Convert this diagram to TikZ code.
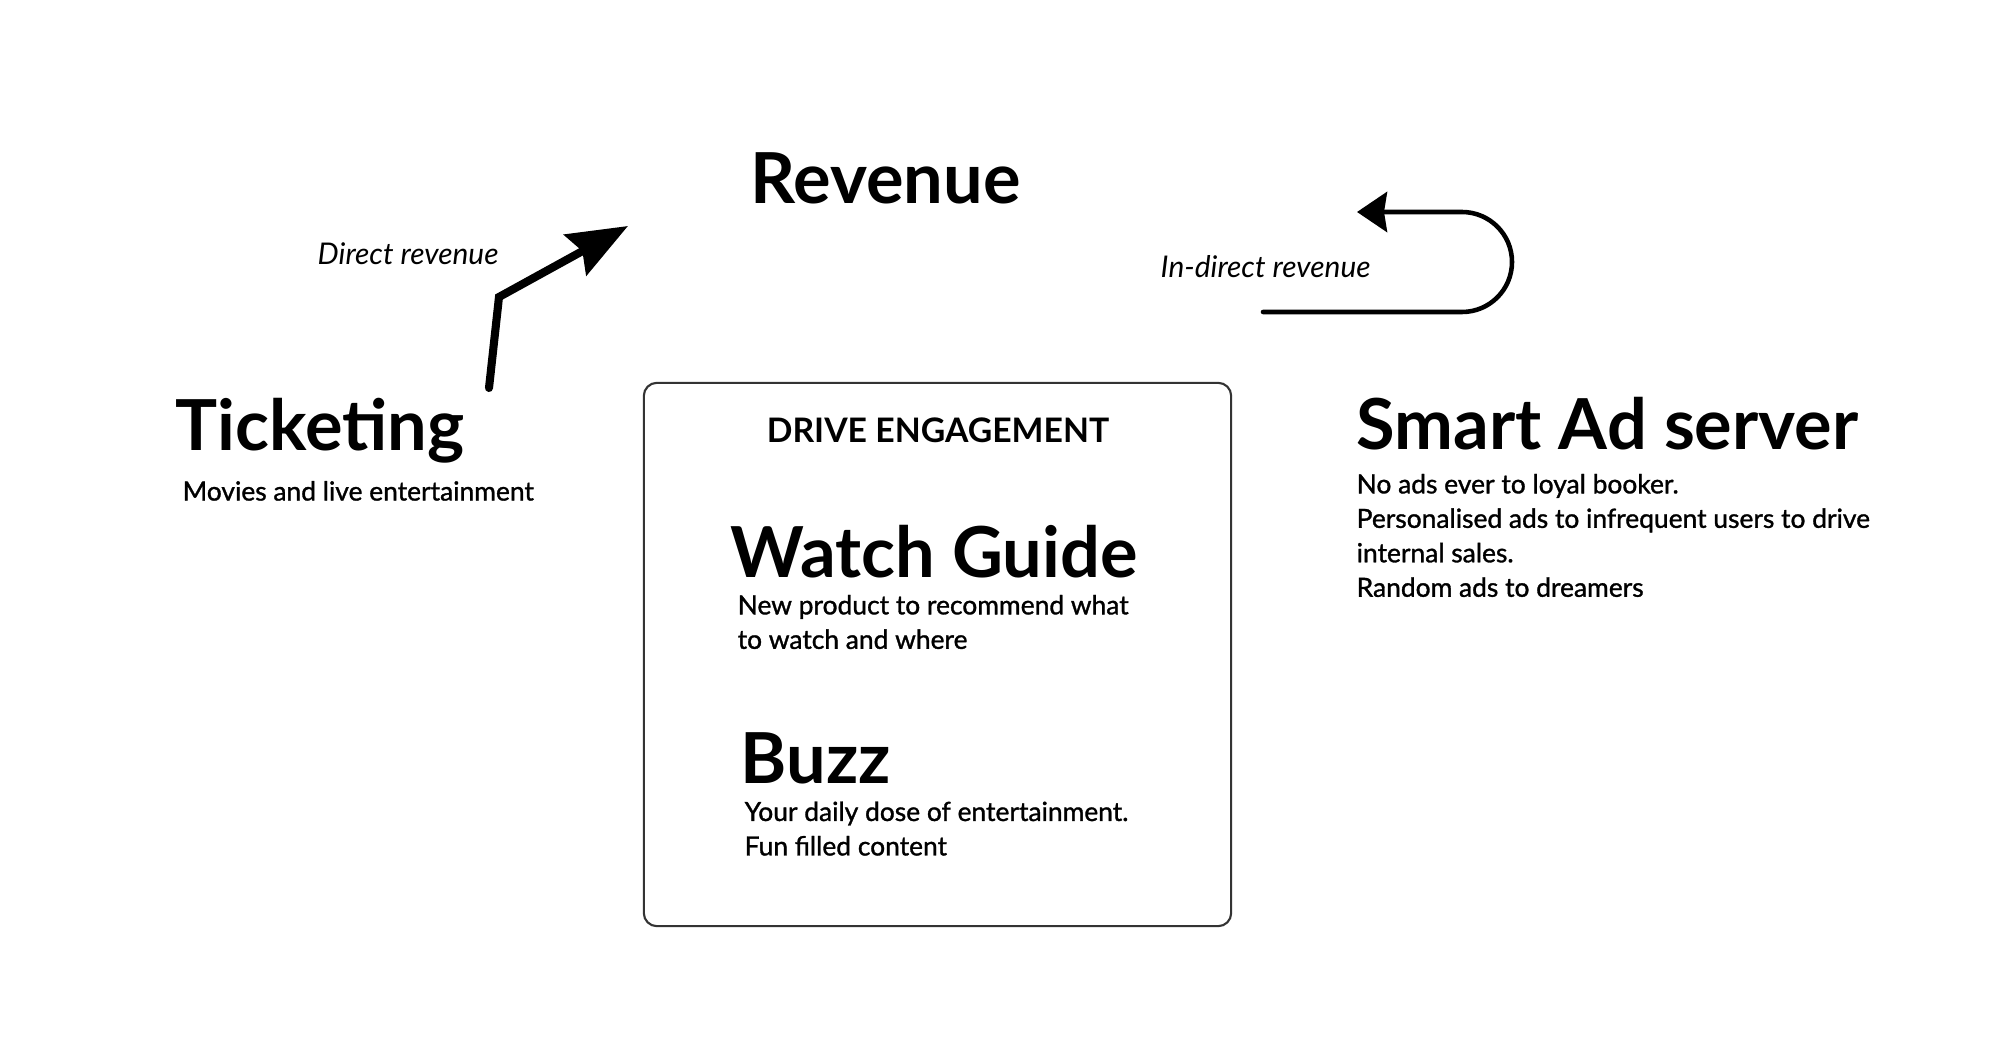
\documentclass[tikz,border=0pt]{standalone}
\usepackage{fontspec}
\setmainfont{Lato}
\newfontfamily\descfont{Lato}[FakeBold=1.2]
\usetikzlibrary{arrows.meta,positioning}
\tikzset{
    heading/.style={inner sep=0pt, anchor=north west, font=\fontsize{20}{24}\selectfont\bfseries},
    desc/.style={inner sep=0pt, align=left, font=\descfont\fontsize{7.5}{9.8}\selectfont},
    hand/.style={inner sep=0pt, anchor=north west, font=\rmfamily\itshape\fontsize{8.5}{10}\selectfont},
    panel/.style={rectangle, draw=black!80, line width=0.6pt, rounded corners=0.13cm, minimum width=5.87cm, minimum height=5.43cm},
    bigarrow/.style={-{Stealth[length=0.6cm, width=0.46cm, inset=0.08cm]}, line width=2.3pt, line cap=round},
    looparrow/.style={-{Stealth[length=0.3cm, width=0.4cm, inset=0.03cm]}, line width=1.3pt, line cap=round, rounded corners=0.5cm}
}
\begin{document}
\begin{tikzpicture}[x=0.01cm, y=-0.01cm]
\useasboundingbox (0,0) rectangle (2000,1061);

% Revenue at the top
\node[heading] (revenue) at (750,152) {Revenue};

% Ticketing on the left
\node[heading] (ticketing) at (175,398) {Ticketing};
\node[desc, below right=0.16cm and 0.07cm of ticketing.south west] (ticketingtxt) {Movies and live entertainment};

% Drive engagement panel
\node[panel] (engage) at (937.5,654.5) {};
\node[inner sep=0pt, anchor=north, font=\fontsize{9.6}{12}\selectfont\bfseries] (drive) at (938,417) {DRIVE ENGAGEMENT};
\node[heading] (watch) at (730,525) {Watch Guide};
\node[desc, below right=0.15cm and 0.07cm of watch.south west] (watchtxt) {New product to recommend what\\to watch and where};
\node[heading] (buzz) at (740,732) {Buzz};
\node[desc, below right=0.16cm and 0.04cm of buzz.south west] (buzztxt) {Your daily dose of entertainment.\\Fun filled content};

% Smart Ad server on the right
\node[heading] (adserver) at (1356,397) {Smart Ad server};
\node[desc, below right=0.22cm and 0cm of adserver.south west] (adservertxt) {No ads ever to loyal booker.\\Personalised ads to infrequent users to drive\\internal sales.\\Random ads to dreamers};

% revenue arrows
\node[hand] (directlbl) at (317,242) {Direct revenue};
\node[hand] (indirectlbl) at (1160,255) {In-direct revenue};

\coordinate (dstart) at (489,388);
\coordinate (dbend) at (499,297);
\coordinate (dend) at (628,226);
\draw[bigarrow] (dstart) -- (dbend) -- (dend);

\coordinate (istart) at (1263,312);
\coordinate (iend) at (1357,212);
\draw[looparrow] (istart) -- (1512,312) -- (1512,212) -- (iend);

\end{tikzpicture}
\end{document}
